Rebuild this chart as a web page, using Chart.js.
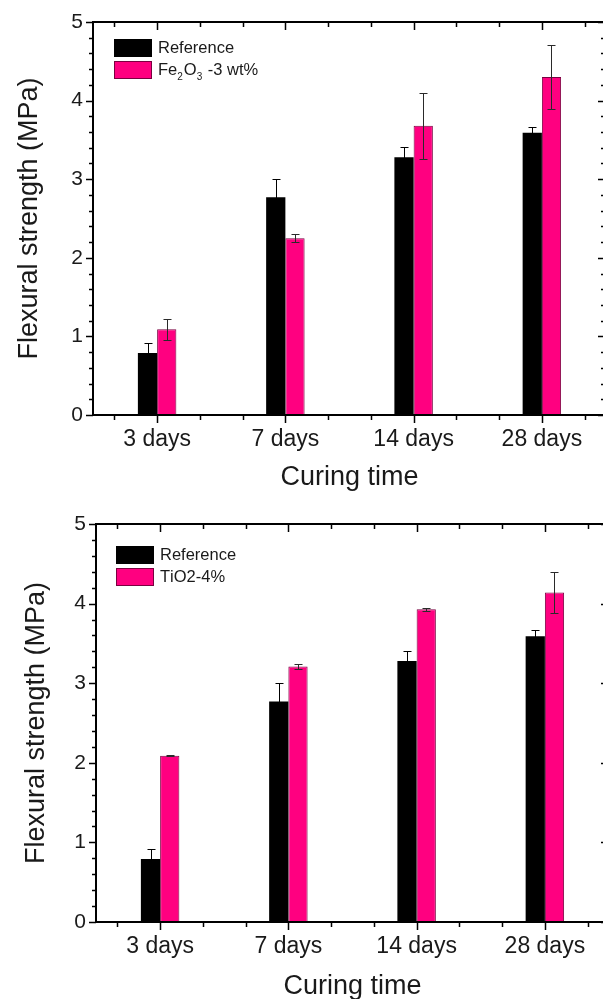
<!DOCTYPE html>
<html>
<head>
<meta charset="utf-8">
<script src="https://cdn.jsdelivr.net/npm/chart.js@4.4.1/dist/chart.umd.min.js"></script>
<style>
  html, body { margin: 0; padding: 0; background: #fff; overflow: hidden; }
  canvas { display: block; }
</style>
</head>
<body>
<canvas id="chartFe" width="620" height="500"></canvas>
<canvas id="chartTi" width="620" height="499"></canvas>
<script>
// data (MPa)
const categories = ['3 days', '7 days', '14 days', '28 days'];
const referenceValues = [0.79, 2.77, 3.28, 3.59];
const referenceErrors = [0.13, 0.23, 0.13, 0.08];
const fe2o3Values = [1.09, 2.25, 3.68, 4.30];
const fe2o3Errors = [0.13, 0.05, 0.42, 0.41];
const tio2Values = [2.09, 3.21, 3.93, 4.14];
const tio2Errors = [0.01, 0.03, 0.02, 0.26];

const FONT = "'Liberation Sans', Arial, sans-serif";
const TEXT = '#1a1a1a';
const PINK = '#ff0080';

const SUBS = { '₀': '0', '₁': '1', '₂': '2', '₃': '3', '₄': '4' };

function drawRich(ctx, text, x, y, size) {
    // legend text, with small lowered digits for chemical subscripts
    ctx.textBaseline = 'middle';
    ctx.textAlign = 'left';
    for (const ch of text) {
        if (SUBS[ch]) {
            ctx.font = `${Math.round(size * 0.62)}px ${FONT}`;
            ctx.fillText(SUBS[ch], x, y + size * 0.45);
            x += ctx.measureText(SUBS[ch]).width + 1;
        } else {
            ctx.font = `${size}px ${FONT}`;
            ctx.fillText(ch, x, y);
            x += ctx.measureText(ch).width;
        }
    }
}

// Origin-style frame: box, inner/outer ticks, error bars, inset legend
const originPlugin = {
    id: 'origin',
    afterDatasetsDraw(chart) {
        const ctx = chart.ctx;
        const ys = chart.scales.y;
        ctx.save();
        ctx.lineWidth = 1;
        chart.data.datasets.forEach((ds, i) => {
            ctx.strokeStyle = ds.errorColor;
            chart.getDatasetMeta(i).data.forEach((bar, j) => {
                const v = ds.data[j], e = ds.errors[j];
                const x = Math.round(bar.x) + 0.5;
                const yTop = Math.round(ys.getPixelForValue(v + e)) + 0.5;
                const yBot = Math.round(ys.getPixelForValue(v - e)) + 0.5;
                ctx.beginPath();
                ctx.moveTo(x, yBot); ctx.lineTo(x, yTop);
                ctx.moveTo(x - 4, yTop); ctx.lineTo(x + 4, yTop);
                ctx.moveTo(x - 4, yBot); ctx.lineTo(x + 4, yBot);
                ctx.stroke();
            });
        });
        ctx.restore();
    },
    afterDraw(chart, args, opts) {
        const ctx = chart.ctx;
        const a = chart.chartArea;
        const xs = chart.scales.x, ys = chart.scales.y;
        ctx.save();
        ctx.strokeStyle = '#000';
        ctx.lineWidth = 2;
        ctx.strokeRect(a.left, a.top, a.right - a.left, a.bottom - a.top);

        ctx.lineWidth = 1.5;
        ctx.beginPath();
        // x ticks every third of a category, majors on the categories
        for (let k = -1; k <= 3 * categories.length - 2; k++) {
            const px = Math.round(xs.getPixelForValue(k / 3)) + 0.5;
            const len = k % 3 === 0 ? 8 : 5;
            ctx.moveTo(px, a.bottom); ctx.lineTo(px, a.bottom + len);
            ctx.moveTo(px, a.top); ctx.lineTo(px, a.top + len);
        }
        // y ticks every 0.2, majors on integers
        for (let k = 0; k <= 25; k++) {
            const py = Math.round(ys.getPixelForValue(k / 5)) + 0.5;
            const major = k % 5 === 0;
            ctx.moveTo(a.left, py); ctx.lineTo(a.left - (major ? 7 : 4), py);
            ctx.moveTo(a.right, py); ctx.lineTo(a.right - (major ? 8 : 5), py);
        }
        ctx.stroke();

        // inset legend
        const lx = a.left + opts.legendX;
        let ly = a.top + opts.legendY;
        chart.data.datasets.forEach(ds => {
            ctx.fillStyle = ds.backgroundColor;
            ctx.fillRect(lx, ly, 38, 18);
            ctx.lineWidth = 1;
            ctx.strokeStyle = ds.borderColor;
            ctx.strokeRect(lx + 0.5, ly + 0.5, 37, 17);
            ctx.fillStyle = TEXT;
            drawRich(ctx, ds.label, lx + 44, ly + 9, 16.5);
            ly += 22;
        });
        ctx.restore();
    }
};

function makeChart(id, secondLabel, secondValues, secondErrors, g) {
    return new Chart(document.getElementById(id), {
        type: 'bar',
        data: {
            labels: categories,
            datasets: [
                { label: 'Reference', data: referenceValues, errors: referenceErrors, errorColor: '#000000', backgroundColor: '#000000', borderColor: '#000000', borderWidth: 0 },
                { label: secondLabel, data: secondValues, errors: secondErrors, errorColor: '#2a2a2a', backgroundColor: PINK, borderColor: '#7a0040', borderWidth: 1 }
            ]
        },
        plugins: [originPlugin],
        options: {
            responsive: false,
            animation: false,
            categoryPercentage: 0.3,
            barPercentage: 1,
            layout: { padding: { top: g.top, right: g.right, bottom: 0, left: 0 } },
            plugins: {
                legend: { display: false },
                tooltip: { enabled: false },
                origin: { legendX: g.legendX, legendY: g.legendY }
            },
            scales: {
                x: {
                    offset: true,
                    grid: { display: false, drawTicks: true, tickLength: 8 },
                    border: { display: false },
                    ticks: { color: TEXT, font: { family: FONT, size: 23 }, padding: g.xPad, maxRotation: 0 },
                    title: { display: true, text: 'Curing time', color: TEXT, font: { family: FONT, size: 27 }, padding: { top: 0, bottom: g.xTitlePad } },
                    afterFit: s => { s.height = g.xHeight; }
                },
                y: {
                    min: 0, max: 5,
                    grid: { display: false, drawTicks: true, tickLength: 7 },
                    border: { display: false },
                    ticks: { stepSize: 1, color: TEXT, font: { family: FONT, size: 21 }, padding: 3 },
                    title: { display: true, text: 'Flexural strength (MPa)', color: TEXT, font: { family: FONT, size: 27 }, padding: { top: g.yTitlePad, bottom: 0 } },
                    afterFit: s => { s.width = g.yWidth; }
                }
            }
        }
    });
}

makeChart('chartFe', 'Fe₂O₃ -3 wt%', fe2o3Values, fe2o3Errors,
    { top: 22, right: 14, xHeight: 85, yWidth: 93, xPad: 3, xTitlePad: 6, yTitlePad: 13, legendX: 21, legendY: 17 });
makeChart('chartTi', 'TiO2-4%', tio2Values, tio2Errors,
    { top: 24, right: 11, xHeight: 77, yWidth: 96, xPad: 3, xTitlePad: -4, yTitlePad: 20, legendX: 20, legendY: 22 });
</script>
</body>
</html>
